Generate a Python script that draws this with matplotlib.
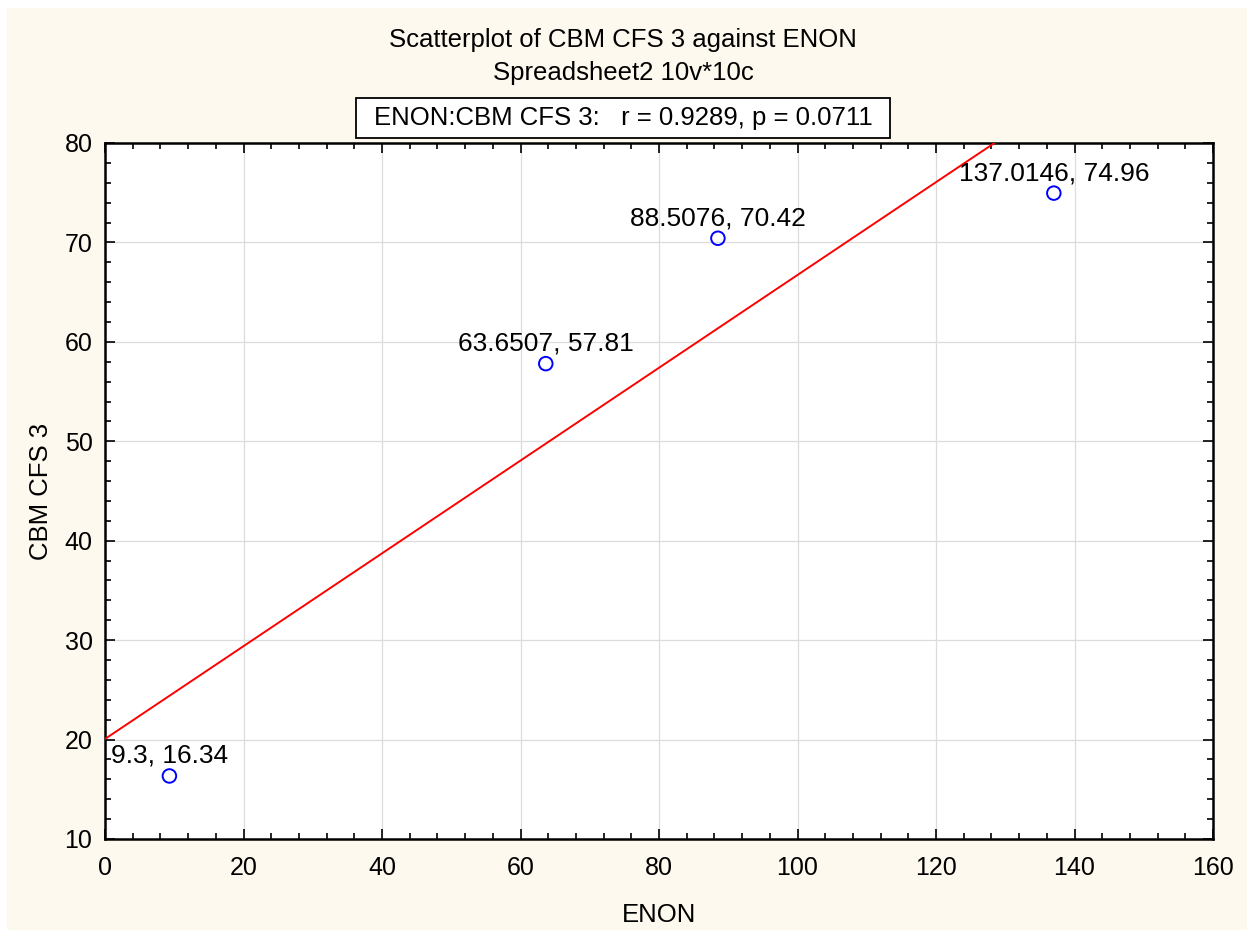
import numpy as np
import matplotlib
matplotlib.use("Agg")
import matplotlib.pyplot as plt
from matplotlib.patches import Rectangle
from matplotlib.ticker import MultipleLocator

plt.rcParams['font.family'] = ['Liberation Sans', 'DejaVu Sans']

enon = [9.3, 63.6507, 88.5076, 137.0146]
cbm = [16.34, 57.81, 70.42, 74.96]
point_labels = ["9.3, 16.34", "63.6507, 57.81", "88.5076, 70.42", "137.0146, 74.96"]
title1 = "Scatterplot of CBM CFS 3 against ENON"
title2 = "Spreadsheet2 10v*10c"
stat_text = "ENON:CBM CFS 3:   r = 0.9289, p = 0.0711"

W, H = 1247, 930
fig = plt.figure(figsize=(W / 100, H / 100), dpi=100, facecolor='white')
cream = '#FDF9EE'
fig.patches.append(Rectangle((7 / W, 0), 1 - 7 / W, 1 - 8 / H, transform=fig.transFigure,
                             facecolor=cream, edgecolor='none', zorder=-10))

ax = fig.add_axes([105 / W, 1 - 839 / H, (1213 - 105) / W, (839 - 143) / H])
ax.set_facecolor('white')
ax.set_xlim(0, 160)
ax.set_ylim(10, 80)
ax.xaxis.set_major_locator(MultipleLocator(20))
ax.xaxis.set_minor_locator(MultipleLocator(4))
ax.yaxis.set_major_locator(MultipleLocator(10))
ax.yaxis.set_minor_locator(MultipleLocator(2))
ax.grid(True, which='major', color='#dcdcdc', linewidth=0.9, zorder=0)
ax.tick_params(which='both', direction='in', top=True, right=True, width=1.2, colors='black',
               labelsize=18)
ax.tick_params(which='major', length=7, pad=9)
ax.tick_params(axis='x', which='major', pad=12)
ax.tick_params(which='minor', length=4)
for s in ax.spines.values():
    s.set_linewidth(1.8)
    s.set_color('black')

# regression line
slope, intercept = np.polyfit(enon, cbm, 1)
xs = np.array([0, 160])
ax.plot(xs, intercept + slope * xs, color='#ff0000', linewidth=1.4, zorder=3)

ax.scatter(enon, cbm, s=95, facecolors='none', edgecolors='#0000ff', linewidths=1.4, zorder=4)
for x, y, lab in zip(enon, cbm, point_labels):
    ax.annotate(lab, (x, y), xytext=(0, 9.4), textcoords='offset points', ha='center',
                va='baseline', fontsize=19, color='black', zorder=5)

ax.set_xlabel("ENON", fontsize=18.5, labelpad=17)
ax.set_ylabel("CBM CFS 3", fontsize=18.5, labelpad=8)

fig.text(623 / W, 1 - 40 / H, title1, ha='center', va='center', fontsize=18.5)
fig.text(623 / W, 1 - 73 / H, title2, ha='center', va='center', fontsize=18.5)
fig.patches.append(Rectangle((356 / W, 1 - 138 / H), (890 - 356) / W, 40 / H, transform=fig.transFigure,
                             facecolor='white', edgecolor='black', linewidth=1.3, zorder=-5))
fig.text(623 / W, 1 - 118 / H, stat_text, ha='center', va='center', fontsize=18.5)

fig.savefig('out.png', dpi=100, facecolor=fig.get_facecolor())
